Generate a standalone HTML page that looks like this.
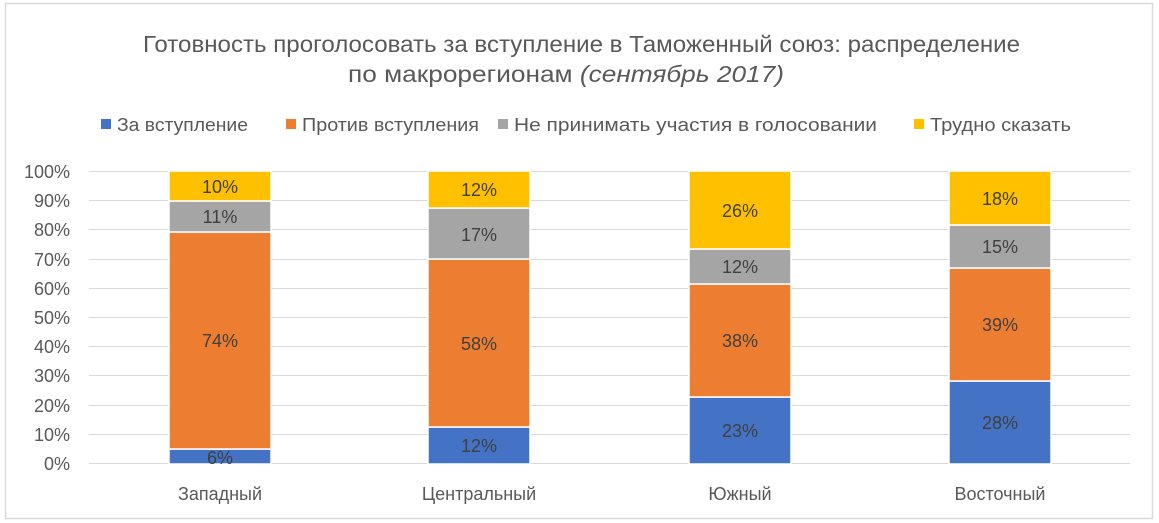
<!DOCTYPE html>
<html><head><meta charset="utf-8"><style>
body{margin:0;background:#fff;}
svg{display:block;font-family:"Liberation Sans","DejaVu Sans",sans-serif;}
</style></head><body>
<svg width="1159" height="523" xmlns="http://www.w3.org/2000/svg">
<rect x="0" y="0" width="1159" height="523" fill="#fff"/>
<rect x="5.5" y="3.5" width="1147" height="515" fill="#fff" stroke="#d9d9d9" stroke-width="1.5"/>
<text x="143" y="52" font-size="23" fill="#595959" textLength="877" lengthAdjust="spacingAndGlyphs">Готовность проголосовать за вступление в Таможенный союз: распределение</text>
<text x="348" y="82" font-size="23" fill="#595959" textLength="436" lengthAdjust="spacingAndGlyphs">по макрорегионам <tspan font-style="italic">(сентябрь 2017)</tspan></text>
<g font-size="18" fill="#595959">
<rect x="101" y="119" width="10" height="10" fill="#4472c4"/><text x="117" y="131" textLength="131" lengthAdjust="spacingAndGlyphs">За вступление</text>
<rect x="286" y="119" width="10" height="10" fill="#ed7d31"/><text x="302" y="131" textLength="177" lengthAdjust="spacingAndGlyphs">Против вступления</text>
<rect x="498" y="119" width="10" height="10" fill="#a5a5a5"/><text x="514" y="131" textLength="363" lengthAdjust="spacingAndGlyphs">Не принимать участия в голосовании</text>
<rect x="914" y="119" width="10" height="10" fill="#ffc000"/><text x="930" y="131" textLength="141" lengthAdjust="spacingAndGlyphs">Трудно сказать</text>
</g>
<g stroke="#d9d9d9" stroke-width="1">
<line x1="89" x2="1130" y1="171.5" y2="171.5"/><line x1="89" x2="1130" y1="200.5" y2="200.5"/>
<line x1="89" x2="1130" y1="229.5" y2="229.5"/><line x1="89" x2="1130" y1="259.5" y2="259.5"/>
<line x1="89" x2="1130" y1="288.5" y2="288.5"/><line x1="89" x2="1130" y1="317.5" y2="317.5"/>
<line x1="89" x2="1130" y1="346.5" y2="346.5"/><line x1="89" x2="1130" y1="375.5" y2="375.5"/>
<line x1="89" x2="1130" y1="405.5" y2="405.5"/><line x1="89" x2="1130" y1="434.5" y2="434.5"/>
<line x1="89" x2="1130" y1="463.5" y2="463.5"/>
</g>
<g font-size="18" fill="#595959" text-anchor="end">
<text x="70" y="178">100%</text><text x="70" y="207">90%</text><text x="70" y="236">80%</text>
<text x="70" y="266">70%</text><text x="70" y="295">60%</text><text x="70" y="324">50%</text>
<text x="70" y="353">40%</text><text x="70" y="382">30%</text><text x="70" y="412">20%</text>
<text x="70" y="441">10%</text><text x="70" y="470">0%</text>
</g>
<g stroke="#fff" stroke-width="1.5">
<rect x="169" y="449" width="102" height="15" fill="#4472c4"/>
<rect x="169" y="232" width="102" height="217" fill="#ed7d31"/>
<rect x="169" y="201" width="102" height="31" fill="#a5a5a5"/>
<rect x="169" y="171" width="102" height="30" fill="#ffc000"/>
<rect x="428" y="427" width="102" height="37" fill="#4472c4"/>
<rect x="428" y="259" width="102" height="168" fill="#ed7d31"/>
<rect x="428" y="208" width="102" height="51" fill="#a5a5a5"/>
<rect x="428" y="171" width="102" height="37" fill="#ffc000"/>
<rect x="689" y="397" width="102" height="67" fill="#4472c4"/>
<rect x="689" y="284" width="102" height="113" fill="#ed7d31"/>
<rect x="689" y="249" width="102" height="35" fill="#a5a5a5"/>
<rect x="689" y="171" width="102" height="78" fill="#ffc000"/>
<rect x="949" y="381" width="102" height="83" fill="#4472c4"/>
<rect x="949" y="268" width="102" height="113" fill="#ed7d31"/>
<rect x="949" y="225" width="102" height="43" fill="#a5a5a5"/>
<rect x="949" y="171" width="102" height="54" fill="#ffc000"/>
</g>
<g font-size="18" fill="#404040" text-anchor="middle">
<text x="220" y="464">6%</text><text x="220" y="347">74%</text><text x="220" y="223">11%</text><text x="220" y="193">10%</text>
<text x="479" y="452">12%</text><text x="479" y="350">58%</text><text x="479" y="241">17%</text><text x="479" y="196">12%</text>
<text x="740" y="437">23%</text><text x="740" y="347">38%</text><text x="740" y="273">12%</text><text x="740" y="217">26%</text>
<text x="1000" y="429">28%</text><text x="1000" y="331">39%</text><text x="1000" y="253">15%</text><text x="1000" y="205">18%</text>
</g>
<g font-size="18" fill="#595959" text-anchor="middle">
<text x="220" y="500">Западный</text><text x="479" y="500">Центральный</text>
<text x="740" y="500">Южный</text><text x="1000" y="500">Восточный</text>
</g>
</svg>
</body></html>
